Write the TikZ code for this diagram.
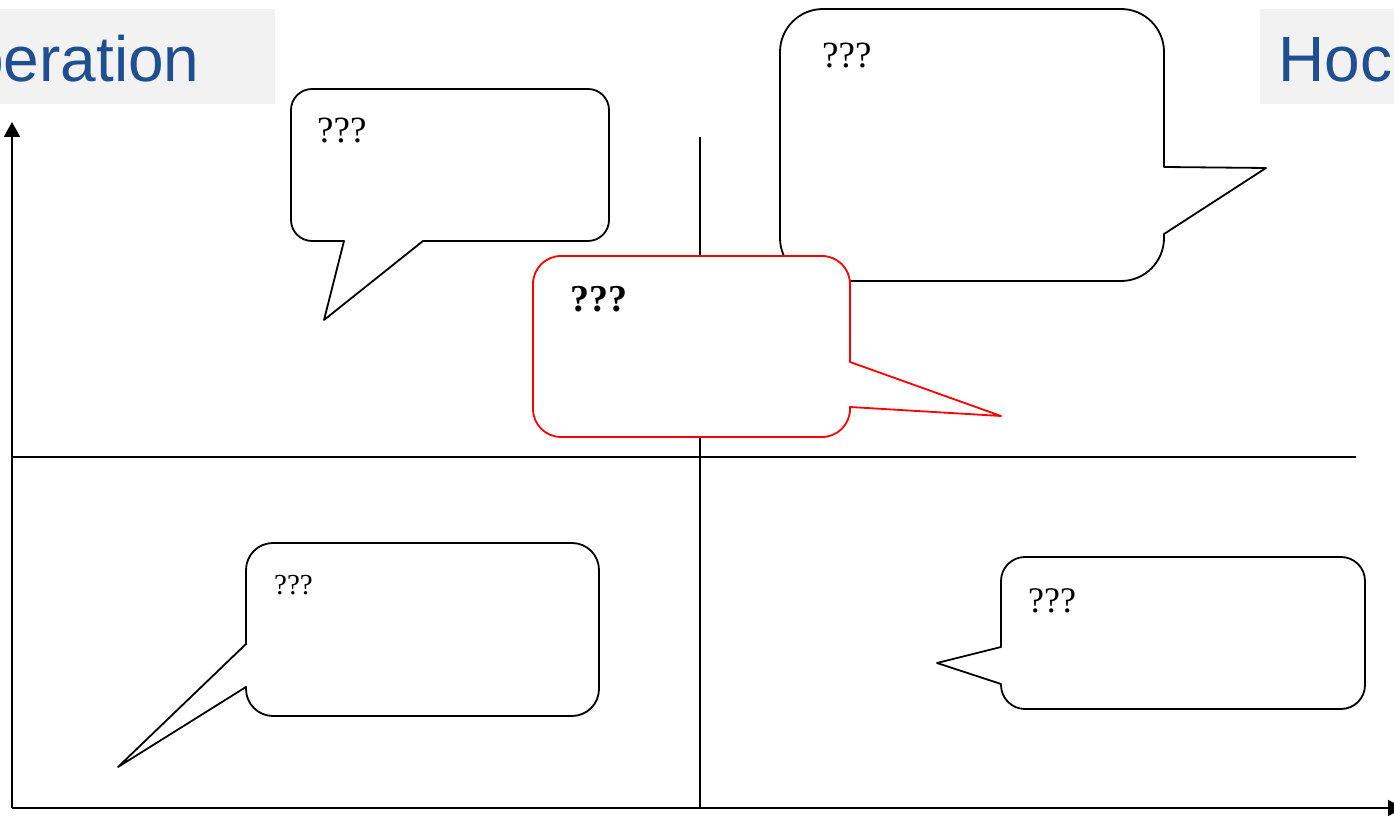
\documentclass[tikz,border=0pt]{standalone}
\usepackage{fontspec}
\setmainfont{Liberation Serif}
\newfontfamily\labelfont{Liberation Sans}
\usetikzlibrary{arrows.meta}
\definecolor{hdrblue}{HTML}{204F91}
\definecolor{hdrgray}{HTML}{F2F2F2}
\tikzset{
  axisline/.style={line width=2pt, -{Triangle[length=15pt,width=16pt]}},
  gridline/.style={line width=1.6pt},
  callout/.style={draw=black, fill=white, line width=1.8pt, line join=round},
  redcallout/.style={draw=red, fill=white, line width=1.8pt, line join=round},
  qtext/.style={inner sep=0pt, anchor=base west, text=black},
  hdrbox/.style={fill=hdrgray, draw=none},
  hdrtext/.style={inner sep=0pt, anchor=base west, text=hdrblue, font=\labelfont\fontsize{64}{70}\selectfont}
}
\begin{document}
\begin{tikzpicture}[x=1pt,y=1pt]
\useasboundingbox (0,0) rectangle (1394,816);
% header boxes
\fill[hdrgray] (0,712) rectangle (275,807);
\fill[hdrgray] (1260,712) rectangle (1394,807);
\node[hdrtext] (lefthdr) at (-32,734) {peration};
\node[hdrtext] (righthdr) at (1278,734) {Hoc};
% grid and axes
\coordinate (o) at (12,8);
\coordinate (ytip) at (12,694);
\coordinate (xtip) at (1403,8);
\coordinate (hl) at (12,359);
\coordinate (hr) at (1356,359);
\coordinate (vb) at (700,8);
\coordinate (vt) at (700,679);
\draw[gridline] (hl) -- (hr);
\draw[gridline] (vb) -- (vt);
\draw[axisline] (o) -- (ytip);
\draw[axisline] (o) -- (xtip);
% callout A (top left)
\draw[callout] (312,727) -- (588,727) arc[start angle=90,end angle=0,radius=21]
  -- (609,596) arc[start angle=0,end angle=-90,radius=21]
  -- (423,575) -- (324,496) -- (344,575)
  -- (312,575) arc[start angle=270,end angle=180,radius=21]
  -- (291,706) arc[start angle=180,end angle=90,radius=21] -- cycle;
\node[qtext, font=\fontsize{37}{40}\selectfont] (qa) at (317,673) {???};
% callout B (top right)
\draw[callout] (823,807) -- (1121,807) arc[start angle=90,end angle=0,radius=43]
  -- (1164,649) -- (1266,648) -- (1164,582)
  -- (1164,578) arc[start angle=0,end angle=-90,radius=43]
  -- (823,535) arc[start angle=270,end angle=180,radius=43]
  -- (780,764) arc[start angle=180,end angle=90,radius=43] -- cycle;
\node[qtext, font=\fontsize{37}{40}\selectfont] (qb) at (822,748) {???};
% callout C (red, centre)
\draw[redcallout] (561,560) -- (822,560) arc[start angle=90,end angle=0,radius=28]
  -- (850,454) -- (1001,400) -- (850,409)
  -- (850,407) arc[start angle=0,end angle=-90,radius=28]
  -- (561,379) arc[start angle=270,end angle=180,radius=28]
  -- (533,532) arc[start angle=180,end angle=90,radius=28] -- cycle;
\node[qtext, font=\bfseries\fontsize{38}{40}\selectfont] (qc) at (570,504) {???};
% callout D (bottom left)
\draw[callout] (273,273) -- (572,273) arc[start angle=90,end angle=0,radius=27]
  -- (599,127) arc[start angle=0,end angle=-90,radius=27]
  -- (273,100) arc[start angle=270,end angle=180,radius=27]
  -- (246,129) -- (118,49) -- (246,172)
  -- (246,246) arc[start angle=180,end angle=90,radius=27] -- cycle;
\node[qtext, font=\fontsize{29}{32}\selectfont] (qd) at (274,221) {???};
% callout E (bottom right)
\draw[callout] (1025,259) -- (1341,259) arc[start angle=90,end angle=0,radius=24]
  -- (1365,131) arc[start angle=0,end angle=-90,radius=24]
  -- (1025,107) arc[start angle=270,end angle=180,radius=24]
  -- (1001,132) -- (937,153) -- (1001,169)
  -- (1001,235) arc[start angle=180,end angle=90,radius=24] -- cycle;
\node[qtext, font=\fontsize{36}{40}\selectfont] (qe) at (1028,203) {???};
\end{tikzpicture}
\end{document}
